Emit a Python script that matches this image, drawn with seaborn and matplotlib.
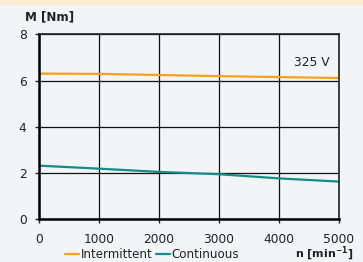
import pandas as pd
import matplotlib.pyplot as plt
import seaborn as sns
from matplotlib.patches import Rectangle

# data
speed = [0, 1000, 2000, 3000, 4000, 5000]
torque_intermittent = [6.30, 6.29, 6.24, 6.19, 6.15, 6.11]
torque_continuous = [2.32, 2.19, 2.05, 1.95, 1.77, 1.63]
series_names = ["Intermittent", "Continuous"]
series_colors = ["#F7A11A", "#138C8C"]
voltage_label = "325 V"

df = pd.DataFrame({
    "n": speed * 2,
    "M": torque_intermittent + torque_continuous,
    "series": [series_names[0]] * len(speed) + [series_names[1]] * len(speed),
})

sns.set_theme(style="white")
plt.rcParams["font.family"] = ["DejaVu Sans"]

bg = "#F3F4F6"
fig = plt.figure(figsize=(3.63, 2.62), dpi=100, facecolor=bg)
fig.patches.append(Rectangle((0, 258.5 / 262), 1, 3.5 / 262, transform=fig.transFigure,
                             color="#FAEBD3", zorder=0))
ax = fig.add_axes([39 / 363, (262 - 219.3) / 262, 300 / 363, 185 / 262])
ax.set_facecolor(bg)

sns.lineplot(data=df, x="n", y="M", hue="series", palette=dict(zip(series_names, series_colors)),
             linewidth=1.6, ax=ax, legend=False)

ax.set_xlim(0, 5000)
ax.set_ylim(0, 8)
ax.set_xticks(speed)
ax.set_yticks([0, 2, 4, 6, 8])
ax.grid(True, color="#111111", linewidth=0.9)
ax.set_axisbelow(True)
ax.set_xlabel("")
ax.set_ylabel("")
ax.tick_params(axis="both", labelsize=8.8, colors="#222222", length=3, width=1,
               direction="out", bottom=True, left=True)
ax.tick_params(axis="x", pad=7)
ax.tick_params(axis="y", pad=6)
for side in ["left", "bottom"]:
    ax.spines[side].set_linewidth(1.8)
    ax.spines[side].set_color("black")
for side in ["top", "right"]:
    ax.spines[side].set_linewidth(1.2)
    ax.spines[side].set_color("#222222")

ax.text(4850, 6.8, voltage_label, ha="right", va="center", fontsize=8.8, color="#222222")

fig.text(25 / 363, 1 - 17 / 262, "M [Nm]", fontsize=8.6, fontweight="bold",
         color="#222222", va="center", ha="left")
fig.text(354 / 363, 1 - 254 / 262, r"n [min$^{\mathbf{-1}}$]", fontsize=8,
         fontweight="bold", color="#222222", va="center", ha="right")

handles = [plt.Line2D([], [], color=c, linewidth=1.6) for c in series_colors]
fig.legend(handles, series_names, loc="center", bbox_to_anchor=(152 / 363, 1 - 255 / 262),
           ncol=2, frameon=False, fontsize=8.6, handlelength=1.2, handletextpad=0.1,
           columnspacing=0.3, labelcolor="#222222", borderpad=0)

plt.savefig("out.png", dpi=100, facecolor=bg)
